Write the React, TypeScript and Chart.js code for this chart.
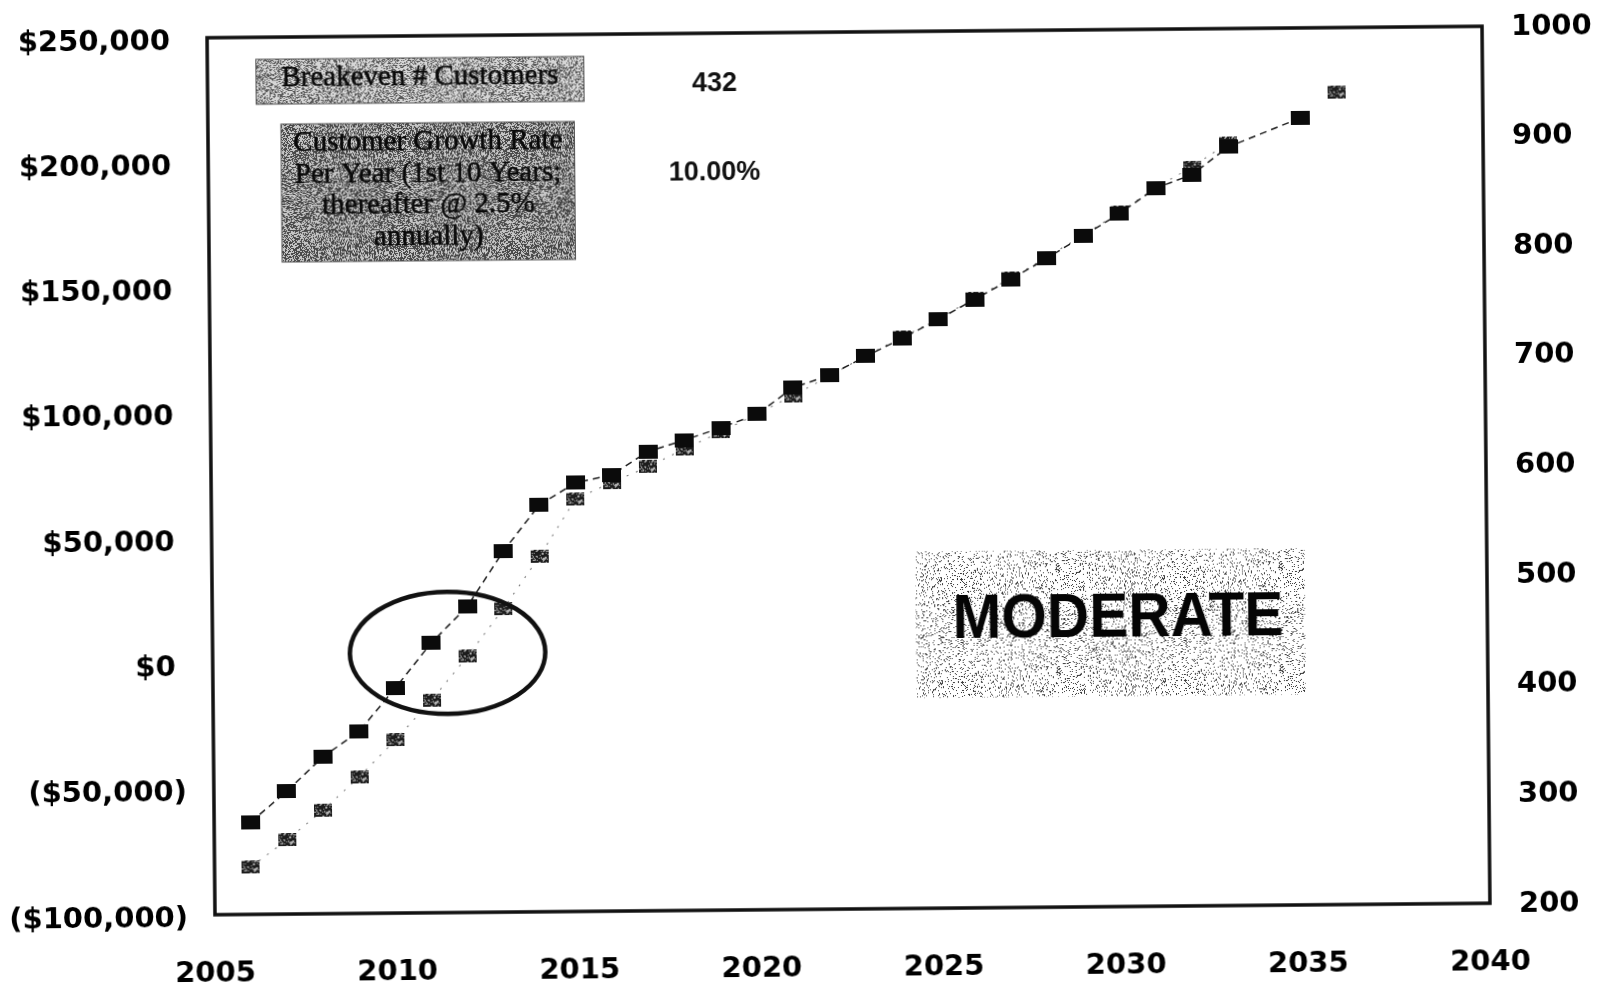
import { useEffect, useRef } from "react";
import { Chart, registerables } from "chart.js";

Chart.register(...registerables);

// Projection years and the two plotted series
const years = [
  2006, 2007, 2008, 2009, 2010, 2011, 2012, 2013, 2014, 2015, 2016,
  2017, 2018, 2019, 2020, 2021, 2022, 2023, 2024, 2025, 2026, 2027,
  2028, 2029, 2030, 2031, 2032, 2033, 2034, 2035, 2036,
];
// Number of customers (right axis)
const customers = [
  284, 312, 343, 366, 405, 446, 479, 529, 571, 591, 598,
  619, 629, 640, 652, 676, 687, 704, 720, 737, 755, 773,
  792, 812, 832, 855, 867, 892, null, 918, null,
];
// Cumulative net cash position in dollars (left axis)
const netCash = [
  -81000, -70400, -58600, -45400, -30900, -15100, 2300, 21200, 41900, 64600, 71100,
  77200, 84200, 90800, 97900, 105100, 112800, 120700, 128000, 135100, 143300, 151100,
  159400, 168100, 177000, 186700, 194900, 204300, null, null, 224400,
];

// Axis tick values
const yearTicks = [2005, 2010, 2015, 2020, 2025, 2030, 2035, 2040];
const dollarTicks = [-100000, -50000, 0, 50000, 100000, 150000, 200000, 250000];
const customerTicks = [200, 300, 400, 500, 600, 700, 800, 900, 1000];

// Callout texts
const breakevenTitle = "Breakeven # Customers";
const breakevenCustomers = 432;
const growthTitleLines = [
  "Customer Growth Rate",
  "Per Year (1st 10 Years;",
  "thereafter @ 2.5%",
  "annually)",
];
const growthRate = "10.00%";
const scenarioName = "MODERATE";

// Deterministic per-pixel hash used for the halftone-like fills
function hash01(x: number, y: number, seed: number): number {
  let h = (x * 73856093) ^ (y * 19349663) ^ (seed * 83492791);
  h = Math.imul(h ^ (h >>> 16), 0x45d9f3b);
  h = Math.imul(h ^ (h >>> 16), 0x45d9f3b);
  h ^= h >>> 16;
  return (h >>> 0) / 4294967296;
}

function hexToRgb(hex: string): [number, number, number] {
  const n = parseInt(hex.slice(1), 16);
  return [(n >> 16) & 255, (n >> 8) & 255, n & 255];
}

function speckle(w: number, h: number, seed: number, darkShare: number, dark: string, light: string) {
  const c = document.createElement("canvas");
  c.width = w;
  c.height = h;
  const g = c.getContext("2d")!;
  const img = g.createImageData(w, h);
  const d = hexToRgb(dark);
  const l = hexToRgb(light);
  for (let y = 0; y < h; y++) {
    for (let x = 0; x < w; x++) {
      const col = hash01(x, y, seed) < darkShare ? d : l;
      const k = (y * w + x) * 4;
      img.data[k] = col[0];
      img.data[k + 1] = col[1];
      img.data[k + 2] = col[2];
      img.data[k + 3] = 255;
    }
  }
  g.putImageData(img, 0, 0);
  return c;
}

function solidMarker(w: number, h: number, color: string) {
  const c = document.createElement("canvas");
  c.width = w;
  c.height = h;
  const g = c.getContext("2d")!;
  g.fillStyle = color;
  g.fillRect(0, 0, w, h);
  return c;
}

// Keep the plot area fixed: no extra room for the end labels of the value axes
function flattenVerticalPadding(s: any) {
  s.paddingTop = 0;
  s.paddingBottom = 0;
}

export default function App() {
  const canvasRef = useRef<HTMLCanvasElement | null>(null);

  useEffect(() => {
    const canvas = canvasRef.current;
    if (!canvas) return;

    const blackMarker = solidMarker(19, 14, "#0b0b0b");
    const grayMarker = speckle(18, 13, 11, 0.8, "#1c1c1c", "#b4b4b4");

    const boxFillA = speckle(211, 97, 3, 0.4, "#5a5a5a", "#d6d6d6");
    const boxFillB = speckle(211, 97, 5, 0.52, "#484848", "#c6c6c6");
    const boxFillC = speckle(223, 103, 9, 0.13, "#3a3a3a", "#ffffff");

    const calloutPlugin = {
      id: "callouts",
      beforeDraw(chart: any) {
        const ctx = chart.ctx as CanvasRenderingContext2D;
        ctx.save();
        ctx.fillStyle = "#ffffff";
        ctx.fillRect(0, 0, chart.width, chart.height);
        ctx.restore();
      },
      beforeDatasetsDraw(chart: any) {
        const ctx = chart.ctx as CanvasRenderingContext2D;
        ctx.save();

        // Breakeven caption box
        ctx.fillStyle = ctx.createPattern(boxFillA, "repeat")!;
        ctx.fillRect(259.5, 54, 328, 45);
        ctx.strokeStyle = "#555";
        ctx.lineWidth = 1;
        ctx.strokeRect(259.5, 54, 328, 45);
        ctx.fillStyle = "#0a0a0a";
        ctx.strokeStyle = "#0a0a0a";
        ctx.lineWidth = 0.5;
        ctx.font = "29px 'Liberation Serif'";
        ctx.textAlign = "center";
        ctx.textBaseline = "alphabetic";
        ctx.fillText(breakevenTitle, 423.5, 80.5);
        ctx.strokeText(breakevenTitle, 423.5, 80.5);

        // Growth rate caption box
        ctx.fillStyle = ctx.createPattern(boxFillB, "repeat")!;
        ctx.fillRect(284, 119, 293.5, 138);
        ctx.strokeStyle = "#555";
        ctx.lineWidth = 1;
        ctx.strokeRect(284, 119, 293.5, 138);
        ctx.fillStyle = "#0a0a0a";
        ctx.strokeStyle = "#0a0a0a";
        ctx.lineWidth = 0.5;
        growthTitleLines.forEach((line, i) => {
          ctx.fillText(line, 430.8, 146 + i * 31.7);
          ctx.strokeText(line, 430.8, 146 + i * 31.7);
        });

        // Values next to the captions
        ctx.font = "bold 27px 'Liberation Sans'";
        ctx.textBaseline = "middle";
        ctx.fillStyle = "#111";
        ctx.fillText(String(breakevenCustomers), 718, 83);
        ctx.fillText(growthRate, 717.2, 172);

        // Scenario label
        ctx.fillStyle = ctx.createPattern(boxFillC, "repeat")!;
        ctx.fillRect(914.6, 552.4, 389, 146);
        ctx.translate(1116.7, 639);
        ctx.scale(0.93, 1);
        ctx.font = "bold 63px 'Liberation Sans'";
        ctx.textBaseline = "alphabetic";
        ctx.fillStyle = "#050505";
        ctx.fillText(scenarioName, 0, 0);
        ctx.restore();
      },
      afterDatasetsDraw(chart: any) {
        const ctx = chart.ctx as CanvasRenderingContext2D;
        const { left, top, right, bottom } = chart.chartArea;
        const xs = chart.scales.x;
        const ys = chart.scales.y;
        ctx.save();
        // Ring around the breakeven crossing
        const cx = xs.getPixelForValue(2011.45);
        const cy = ys.getPixelForValue(3700);
        ctx.beginPath();
        ctx.ellipse(cx, cy, 97.7, 61, 0, 0, Math.PI * 2);
        ctx.lineWidth = 4.5;
        ctx.strokeStyle = "#111";
        ctx.stroke();
        // Plot frame
        ctx.lineWidth = 3.5;
        ctx.strokeStyle = "#111";
        ctx.strokeRect(left, top, right - left, bottom - top);
        ctx.restore();
      },
    };

    const tickFont = { family: "'DejaVu Sans'", weight: "bold" as const, size: 29 };
    const noGrid = { display: false, drawTicks: false };

    const chart = new Chart(canvas, {
      type: "line",
      data: {
        datasets: [
          {
            label: "Customers",
            data: years.map((yr, i) => ({ x: yr, y: customers[i] })),
            yAxisID: "y1",
            borderColor: "#1e1e1e",
            borderWidth: 1.5,
            borderDash: [7, 5],
            pointStyle: blackMarker as any,
            pointRadius: 10,
            spanGaps: true,
            order: 0,
          },
          {
            label: "Net cash",
            data: years.map((yr, i) => ({ x: yr, y: netCash[i] })),
            yAxisID: "y",
            borderColor: "#7a7a7a",
            borderWidth: 1.1,
            borderDash: [2, 8],
            pointStyle: grayMarker as any,
            pointRadius: 10,
            spanGaps: false,
            order: 1,
          },
        ],
      },
      options: {
        responsive: false,
        devicePixelRatio: 1,
        animation: false,
        events: [],
        layout: { padding: { top: 32, left: 0, right: 0, bottom: 0 } },
        plugins: {
          legend: { display: false },
          tooltip: { enabled: false },
        },
        scales: {
          x: {
            type: "linear",
            min: yearTicks[0],
            max: yearTicks[yearTicks.length - 1],
            grid: noGrid,
            border: { display: false },
            afterBuildTicks: (s: any) => {
              s.ticks = yearTicks.map((value) => ({ value }));
            },
            afterFit: (s: any) => {
              s.height = 81;
            },
            ticks: {
              padding: 42,
              color: "#000",
              font: tickFont,
              maxRotation: 0,
              callback: (v: any) => String(v),
            },
          },
          y: {
            type: "linear",
            position: "left",
            min: dollarTicks[0],
            max: dollarTicks[dollarTicks.length - 1],
            grid: noGrid,
            border: { display: false },
            afterBuildTicks: (s: any) => {
              s.ticks = dollarTicks.map((value) => ({ value }));
            },
            afterFit: (s: any) => {
              s.width = 211;
              flattenVerticalPadding(s);
            },
            ticks: {
              padding: 27,
              labelOffset: 4,
              color: "#000",
              font: tickFont,
              callback: (v: any) => {
                const n = Number(v);
                const body = "$" + Math.abs(n).toLocaleString("en-US");
                return n < 0 ? "(" + body + ")" : body + " ";
              },
            },
          },
          y1: {
            type: "linear",
            position: "right",
            min: customerTicks[0],
            max: customerTicks[customerTicks.length - 1],
            grid: noGrid,
            border: { display: false },
            afterBuildTicks: (s: any) => {
              s.ticks = customerTicks.map((value) => ({ value }));
            },
            afterFit: (s: any) => {
              s.width = 119;
              flattenVerticalPadding(s);
            },
            ticks: {
              padding: 29,
              labelOffset: 1,
              color: "#000",
              font: tickFont,
              callback: (v: any) => String(v),
            },
          },
        },
      },
      plugins: [calloutPlugin],
    });

    return () => {
      chart.destroy();
    };
  }, []);

  return (
    <div
      style={{
        position: "absolute",
        left: 0,
        top: 0,
        width: 1605,
        height: 990,
        overflow: "hidden",
        background: "#ffffff",
      }}
    >
      <canvas
        ref={canvasRef}
        width={1605}
        height={990}
        style={{
          display: "block",
          width: 1605,
          height: 990,
          transform: "rotate(-0.516deg)",
          transformOrigin: "848.75px 470.4px",
        }}
      />
    </div>
  );
}
